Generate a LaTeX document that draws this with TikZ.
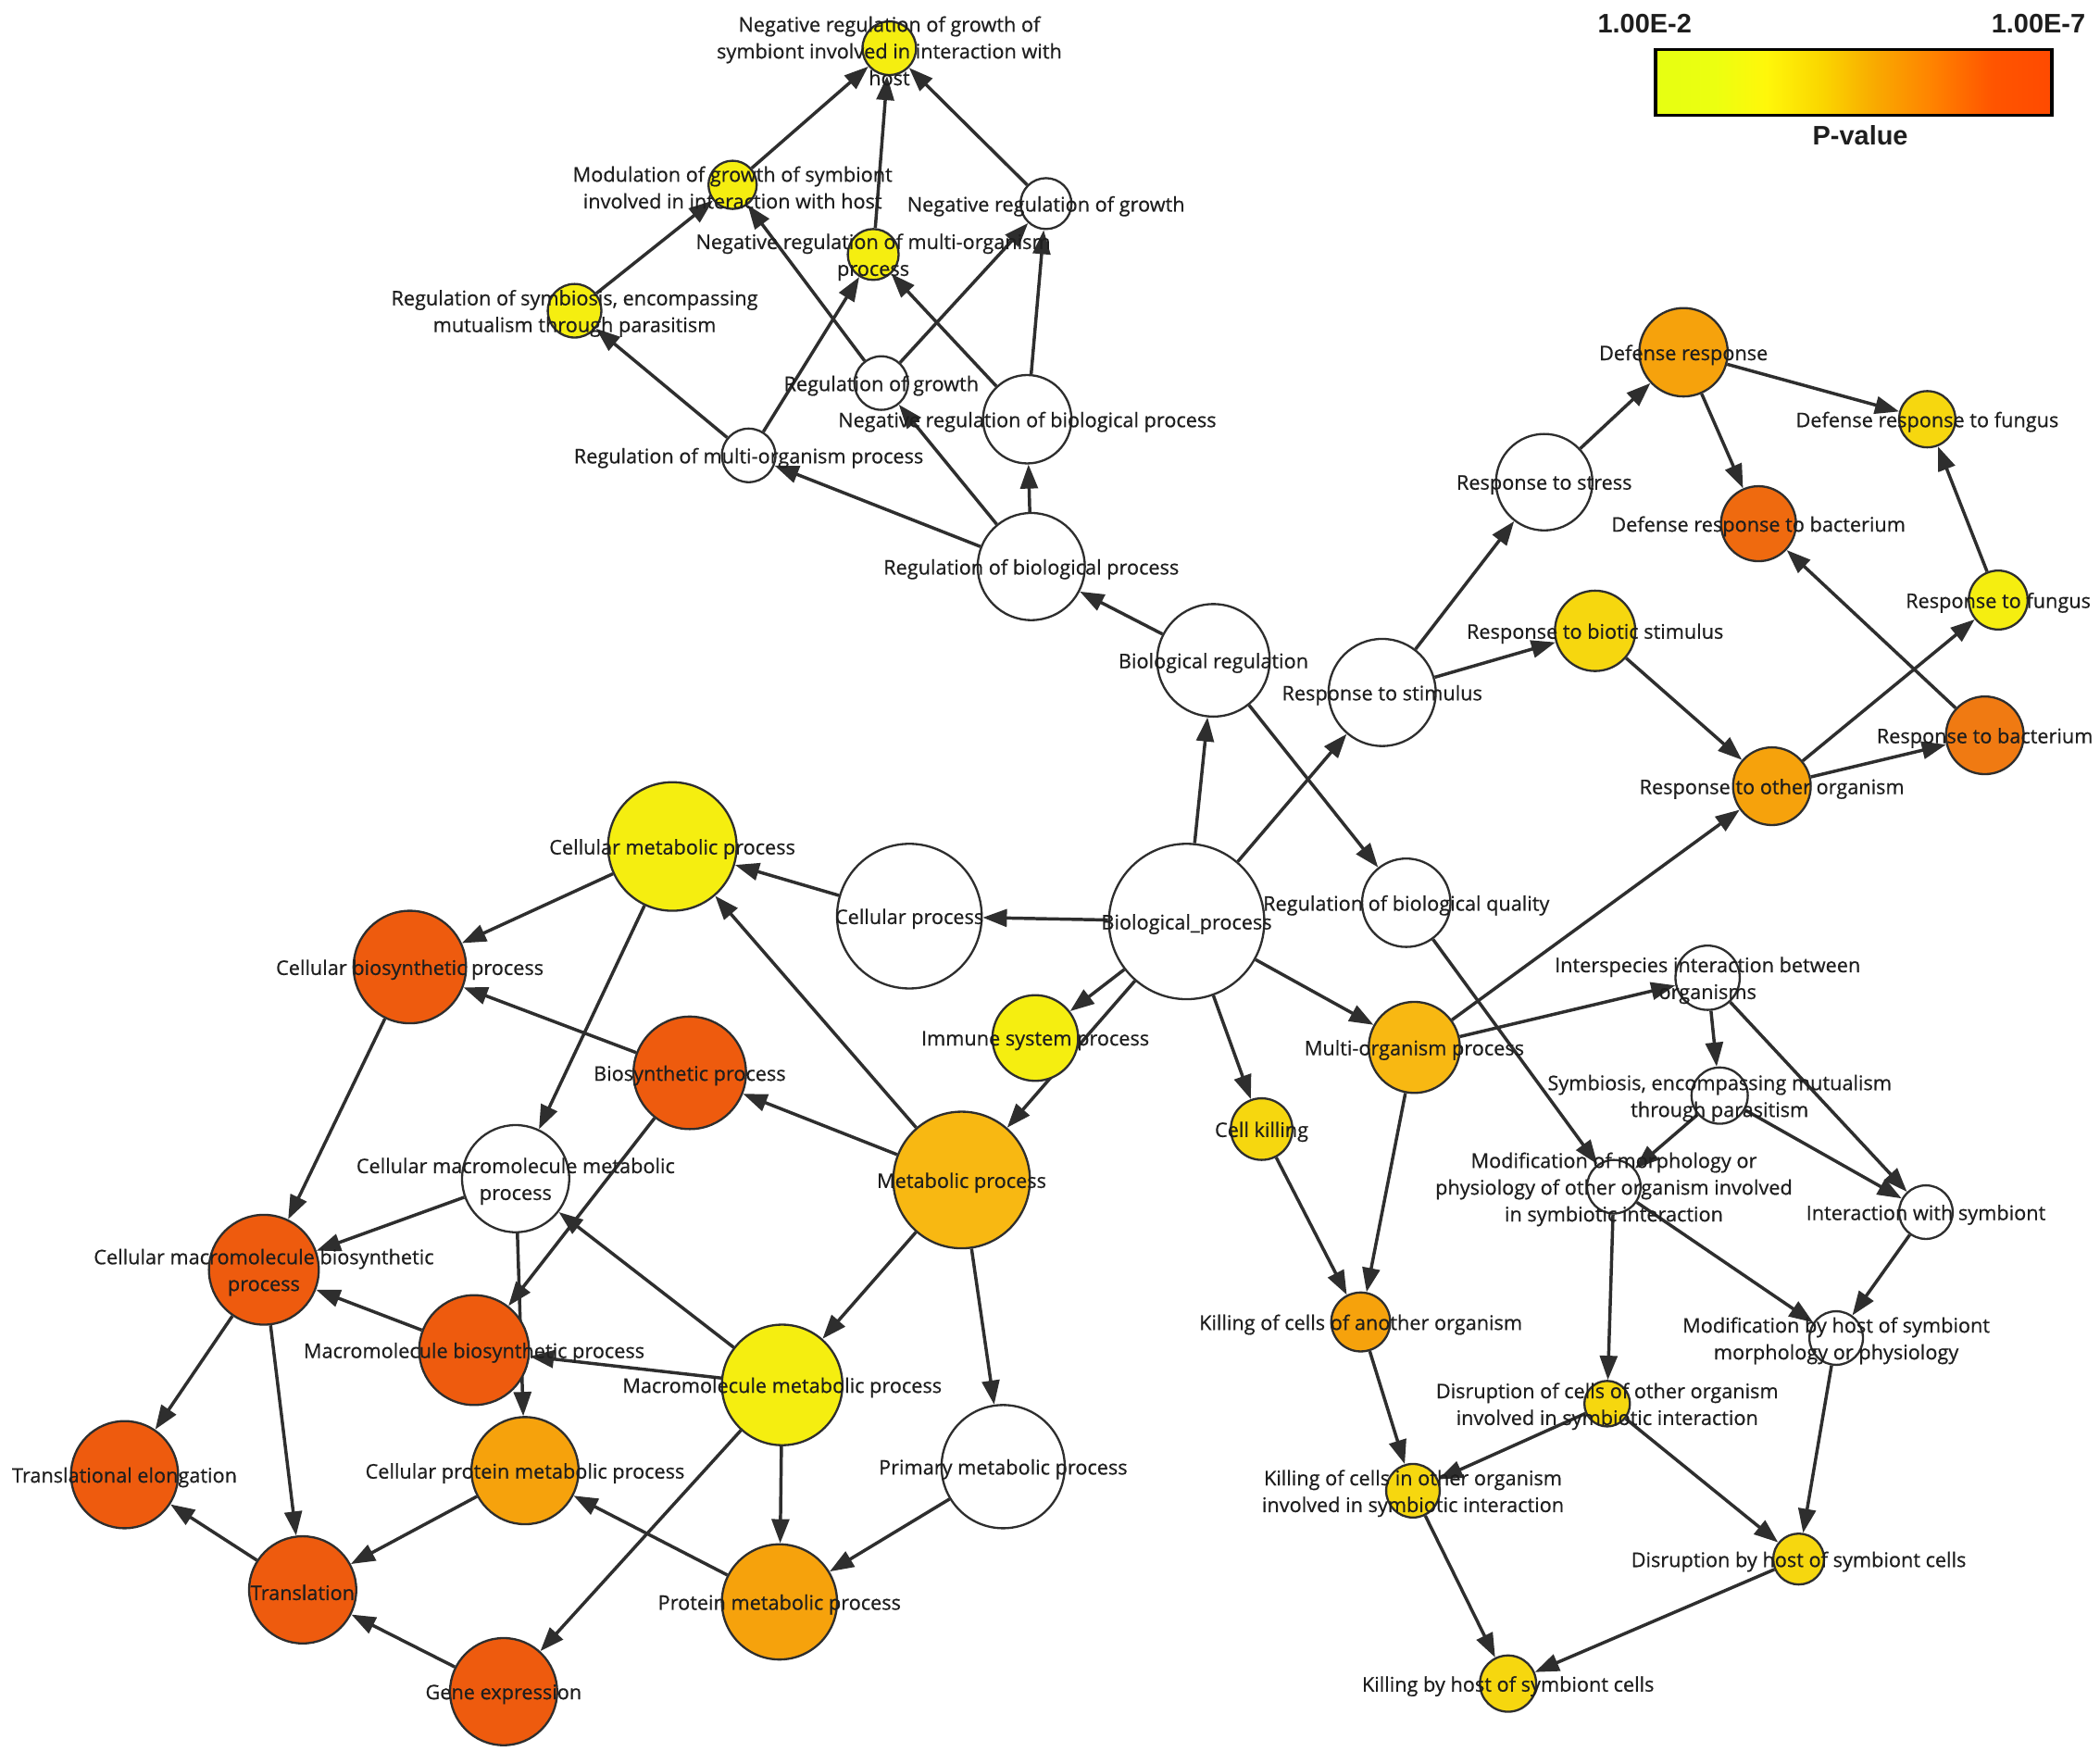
\documentclass[tikz,border=0pt]{standalone}
\usepackage{fontspec}
\newfontfamily\termfont[FakeBold=0.6]{Open Sans}
\newfontfamily\legendfont{Liberation Sans}
\definecolor{edgeGO}{HTML}{2E2E2E}
\definecolor{textGO}{HTML}{1E1E1E}
\definecolor{lemonGO}{HTML}{F5EE10}
\definecolor{goldGO}{HTML}{F6D70F}
\definecolor{amberGO}{HTML}{F8B812}
\definecolor{orangeGO}{HTML}{F6A20C}
\definecolor{darkOrangeGO}{HTML}{F07A12}
\definecolor{bactGO}{HTML}{EF6A0F}
\definecolor{redGO}{HTML}{EE5B0E}
\definecolor{pvA}{HTML}{E6FF12}
\definecolor{pvB}{HTML}{ECFF10}
\definecolor{pvC}{HTML}{FFF70A}
\definecolor{pvD}{HTML}{FAD600}
\definecolor{pvE}{HTML}{F9A800}
\definecolor{pvF}{HTML}{FF8200}
\definecolor{pvG}{HTML}{FF5500}
\definecolor{pvH}{HTML}{FF4A00}
\usetikzlibrary{
  arrows.meta,
  backgrounds
}
\pgfdeclarehorizontalshading{pvalueGO}{100bp}{
  color(0bp)=(pvA); color(25bp)=(pvA); color(32.5bp)=(pvB);
  color(39bp)=(pvC); color(46bp)=(pvD); color(53bp)=(pvE);
  color(60bp)=(pvF); color(67.5bp)=(pvG); color(75bp)=(pvH);
  color(100bp)=(pvH)}

\begin{document}
\begin{tikzpicture}[
    x = 1pt, y = -1pt,
    % Terms.
    term/.style = {
      circle,
      draw = edgeGO,
      line width = 1.6pt,
      inner sep = 0pt,
      minimum size = #1
    },
    lbl/.style = {
      font = \termfont\fontsize{15}{20}\selectfont,
      text = textGO,
      align = center,
      yshift = -2pt
    },
    % Links.
    link/.style = {
      -{Triangle[length = 18pt, width = 13pt]},
      draw = edgeGO,
      line width = 2.4pt
    },
    % Legend.
    legend label/.style = {
      font = \legendfont\bfseries\fontsize{20}{24}\selectfont,
      text = textGO
    }
  ]
  \useasboundingbox (0,0) rectangle (1568,1317);

  % Regulation branch.
  \node[term = 40pt, fill = lemonGO, label = {[lbl]center:Negative regulation of growth of\\symbiont involved in interaction with\\host}] (ngs) at (664,36) {};
  \node[term = 36pt, fill = lemonGO, label = {[lbl]center:Modulation of growth of symbiont\\involved in interaction with host}] (modg) at (547,138) {};
  \node[term = 38pt, fill = white, label = {[lbl]center:Negative regulation of growth}] (nrg) at (781,152) {};
  \node[term = 38pt, fill = lemonGO, label = {[lbl]center:Negative regulation of multi-organism\\process}] (nrmo) at (652,190) {};
  \node[term = 40pt, fill = lemonGO, label = {[lbl]center:Regulation of symbiosis{,} encompassing\\mutualism through parasitism}] (rsym) at (429,232) {};
  \node[term = 40pt, fill = white, label = {[lbl]center:Regulation of growth}] (rgr) at (658,286) {};
  \node[term = 66pt, fill = white, label = {[lbl]center:Negative regulation of biological process}] (nrbp) at (767,313) {};
  \node[term = 40pt, fill = white, label = {[lbl]center:Regulation of multi-organism process}] (rmo) at (559,340) {};
  \node[term = 80pt, fill = white, label = {[lbl]center:Regulation of biological process}] (rbp) at (770,423) {};
  \node[term = 84pt, fill = white, label = {[lbl]center:Biological regulation}] (breg) at (906,493) {};

  % Response branch.
  \node[term = 80pt, fill = white, label = {[lbl]center:Response to stimulus}] (rstim) at (1032,517) {};
  \node[term = 72pt, fill = white, label = {[lbl]center:Response to stress}] (rstress) at (1153,360) {};
  \node[term = 66pt, fill = orangeGO, label = {[lbl]center:Defense response}] (defr) at (1257,263) {};
  \node[term = 42pt, fill = goldGO, label = {[lbl]center:Defense response to fungus}] (deffung) at (1439,313) {};
  \node[term = 56pt, fill = bactGO, label = {[lbl]center:Defense response to bacterium}] (defbact) at (1313,391) {};
  \node[term = 44pt, fill = lemonGO, label = {[lbl]center:Response to fungus}] (rfung) at (1492,448) {};
  \node[term = 60pt, fill = goldGO, label = {[lbl]center:Response to biotic stimulus}] (rbiot) at (1191,471) {};
  \node[term = 58pt, fill = darkOrangeGO, label = {[lbl]center:Response to bacterium}] (rbact) at (1482,549) {};
  \node[term = 58pt, fill = orangeGO, label = {[lbl]center:Response to other organism}] (rother) at (1323,587) {};

  % Root.
  \node[term = 116pt, fill = white, label = {[lbl]center:Biological\_process}] (bioproc) at (886,688) {};
  \node[term = 108pt, fill = white, label = {[lbl]center:Cellular process}] (cellproc) at (679,684) {};
  \node[term = 66pt, fill = white, label = {[lbl]center:Regulation of biological quality}] (rbq) at (1050,674) {};
  \node[term = 64pt, fill = lemonGO, label = {[lbl]center:Immune system process}] (immune) at (773,775) {};
  \node[term = 68pt, fill = amberGO, label = {[lbl]center:Multi-organism process}] (multi) at (1056,782) {};
  \node[term = 46pt, fill = goldGO, label = {[lbl]center:Cell killing}] (cellkill) at (942,843) {};

  % Multi-organism branch.
  \node[term = 48pt, fill = white, label = {[lbl]center:Interspecies interaction between\\organisms}] (inter) at (1275,730) {};
  \node[term = 42pt, fill = white, label = {[lbl]center:Symbiosis{,} encompassing mutualism\\through parasitism}] (symb) at (1284,818) {};
  \node[term = 40pt, fill = white, label = {[lbl]center:Modification of morphology or\\physiology of other organism involved\\in symbiotic interaction}] (modmorph) at (1205,886) {};
  \node[term = 40pt, fill = white, label = {[lbl]center:Interaction with symbiont}] (intsym) at (1438,905) {};
  \node[term = 44pt, fill = orangeGO, label = {[lbl]center:Killing of cells of another organism}] (killanother) at (1016,987) {};
  \node[term = 40pt, fill = white, label = {[lbl]center:Modification by host of symbiont\\morphology or physiology}] (modhost) at (1371,999) {};
  \node[term = 34pt, fill = goldGO, label = {[lbl]center:Disruption of cells of other organism\\involved in symbiotic interaction}] (disrupt) at (1200,1048) {};
  \node[term = 40pt, fill = goldGO, label = {[lbl]center:Killing of cells in other organism\\involved in symbiotic interaction}] (killinother) at (1055,1113) {};
  \node[term = 38pt, fill = goldGO, label = {[lbl]center:Disruption by host of symbiont cells}] (disrhost) at (1343,1164) {};
  \node[term = 42pt, fill = goldGO, label = {[lbl]center:Killing by host of symbiont cells}] (killhost) at (1126,1257) {};

  % Metabolic branch.
  \node[term = 96pt, fill = lemonGO, label = {[lbl]center:Cellular metabolic process}] (cellmet) at (502,632) {};
  \node[term = 84pt, fill = redGO, label = {[lbl]center:Cellular biosynthetic process}] (cellbio) at (306,722) {};
  \node[term = 84pt, fill = redGO, label = {[lbl]center:Biosynthetic process}] (biosyn) at (515,801) {};
  \node[term = 102pt, fill = amberGO, label = {[lbl]center:Metabolic process}] (metab) at (718,881) {};
  \node[term = 80pt, fill = white, label = {[lbl]center:Cellular macromolecule metabolic\\process}] (cmmet) at (385,880) {};
  \node[term = 82pt, fill = redGO, label = {[lbl]center:Cellular macromolecule biosynthetic\\process}] (cmbio) at (197,948) {};
  \node[term = 82pt, fill = redGO, label = {[lbl]center:Macromolecule biosynthetic process}] (mbio) at (354,1008) {};
  \node[term = 90pt, fill = lemonGO, label = {[lbl]center:Macromolecule metabolic process}] (mmet) at (584,1034) {};
  \node[term = 80pt, fill = redGO, label = {[lbl]center:Translational elongation}] (transel) at (93,1101) {};
  \node[term = 80pt, fill = orangeGO, label = {[lbl]center:Cellular protein metabolic process}] (cpmet) at (392,1098) {};
  \node[term = 92pt, fill = white, label = {[lbl]center:Primary metabolic process}] (primet) at (749,1095) {};
  \node[term = 80pt, fill = redGO, label = {[lbl]center:Translation}] (transl) at (226,1187) {};
  \node[term = 86pt, fill = orangeGO, label = {[lbl]center:Protein metabolic process}] (protmet) at (582,1196) {};
  \node[term = 80pt, fill = redGO, label = {[lbl]center:Gene expression}] (geneexp) at (376,1263) {};

  % Legend.
  \node[legend label] (pmin) at (1228,18) {1.00E-2};
  \node[legend label] (pmax) at (1522,18) {1.00E-7};
  \node[draw = black, line width = 2.4pt, shading = pvalueGO, minimum width = 296pt, minimum height = 49pt, inner sep = 0pt] (pbar) at (1384,61.5) {};
  \node[legend label] (ptitle) at (1389,101) {P-value};

  \begin{scope}[on background layer]
    \fill[white] (0,0) rectangle (1568,1317);

    % Regulation links.
    \draw[link] (rbp) -- (rmo);
    \draw[link] (rbp) -- (rgr);
    \draw[link] (rbp) -- (nrbp);
    \draw[link] (rmo) -- (rsym);
    \draw[link] (rmo) -- (nrmo);
    \draw[link] (rgr) -- (modg);
    \draw[link] (rgr) -- (nrg);
    \draw[link] (nrbp) -- (nrmo);
    \draw[link] (nrbp) -- (nrg);
    \draw[link] (rsym) -- (modg);
    \draw[link] (modg) -- (ngs);
    \draw[link] (nrmo) -- (ngs);
    \draw[link] (nrg) -- (ngs);
    \draw[link] (breg) -- (rbp);
    \draw[link] (breg) -- (rbq);

    % Root links.
    \draw[link] (bioproc) -- (breg);
    \draw[link] (bioproc) -- (rstim);
    \draw[link] (bioproc) -- (cellproc);
    \draw[link] (bioproc) -- (immune);
    \draw[link] (bioproc) -- (metab);
    \draw[link] (bioproc) -- (multi);
    \draw[link] (bioproc) -- (cellkill);

    % Response links.
    \draw[link] (rstim) -- (rstress);
    \draw[link] (rstim) -- (rbiot);
    \draw[link] (rstress) -- (defr);
    \draw[link] (defr) -- (deffung);
    \draw[link] (defr) -- (defbact);
    \draw[link] (rfung) -- (deffung);
    \draw[link] (rbact) -- (defbact);
    \draw[link] (rbiot) -- (rother);
    \draw[link] (rother) -- (rfung);
    \draw[link] (rother) -- (rbact);

    % Multi-organism links.
    \draw[link] (multi) -- (rother);
    \draw[link] (multi) -- (inter);
    \draw[link] (multi) -- (killanother);
    \draw[link] (cellkill) -- (killanother);
    \draw[link] (rbq) -- (modmorph);
    \draw[link] (inter) -- (symb);
    \draw[link] (inter) -- (intsym);
    \draw[link] (symb) -- (modmorph);
    \draw[link] (symb) -- (intsym);
    \draw[link] (modmorph) -- (disrupt);
    \draw[link] (modmorph) -- (modhost);
    \draw[link] (intsym) -- (modhost);
    \draw[link] (modhost) -- (disrhost);
    \draw[link] (disrupt) -- (killinother);
    \draw[link] (disrupt) -- (disrhost);
    \draw[link] (killanother) -- (killinother);
    \draw[link] (killinother) -- (killhost);
    \draw[link] (disrhost) -- (killhost);

    % Metabolic links.
    \draw[link] (cellproc) -- (cellmet);
    \draw[link] (metab) -- (cellmet);
    \draw[link] (metab) -- (biosyn);
    \draw[link] (metab) -- (mmet);
    \draw[link] (metab) -- (primet);
    \draw[link] (cellmet) -- (cellbio);
    \draw[link] (cellmet) -- (cmmet);
    \draw[link] (biosyn) -- (cellbio);
    \draw[link] (biosyn) -- (mbio);
    \draw[link] (cellbio) -- (cmbio);
    \draw[link] (cmmet) -- (cmbio);
    \draw[link] (cmmet) -- (cpmet);
    \draw[link] (mmet) -- (cmmet);
    \draw[link] (mmet) -- (mbio);
    \draw[link] (mmet) -- (protmet);
    \draw[link] (mmet) -- (geneexp);
    \draw[link] (mbio) -- (cmbio);
    \draw[link] (cmbio) -- (transel);
    \draw[link] (cmbio) -- (transl);
    \draw[link] (transl) -- (transel);
    \draw[link] (cpmet) -- (transl);
    \draw[link] (protmet) -- (cpmet);
    \draw[link] (primet) -- (protmet);
    \draw[link] (geneexp) -- (transl);
  \end{scope}
\end{tikzpicture}
\end{document}
